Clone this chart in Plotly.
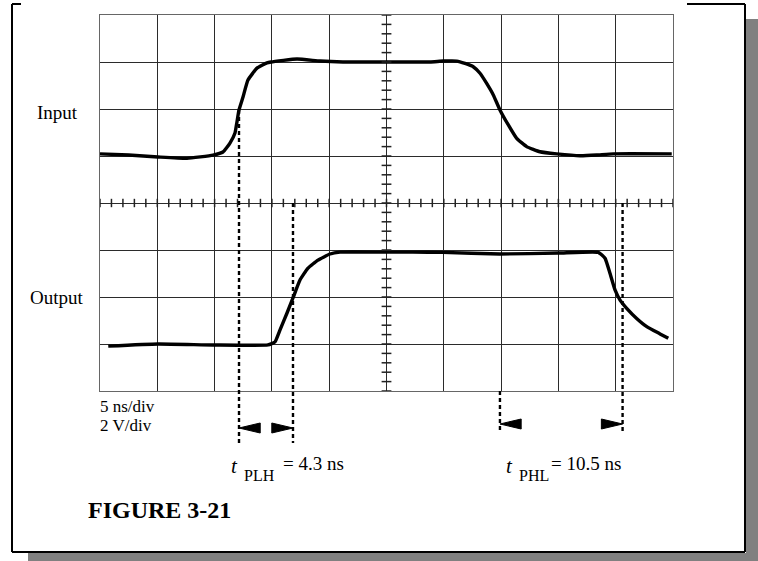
import numpy as np
import plotly.graph_objects as go

# ---------------- data ----------------
NS_PER_DIV = 5          # 5 ns/div
V_PER_DIV = 2           # 2 V/div
N_XDIV = 10
N_YDIV = 8

channel_names = ["Input", "Output"]
channel_offset_div = [1, -3]          # ground level of each trace on the graticule

input_t_ns = [0.00, 2.50, 5.06, 7.59, 9.86, 10.73, 11.34, 11.78, 11.95, 12.13,
              12.48, 12.91, 13.70, 14.57, 14.92, 17.19, 19.20, 21.20, 24.70, 28.80,
              29.96, 31.13, 31.85, 32.57, 33.16, 33.74, 34.32, 34.90, 35.63, 36.36,
              37.23, 38.39, 39.85, 41.88, 43.34, 44.79, 49.89]
input_v = [0.09, 0.04, -0.04, -0.10, 0.04, 0.17, 0.55, 0.98, 1.45, 1.96,
           2.51, 3.23, 3.74, 3.96, 4.00, 4.13, 4.04, 4.00, 4.00, 4.00,
           4.04, 4.04, 3.94, 3.80, 3.52, 3.09, 2.60, 1.96, 1.32, 0.75,
           0.40, 0.18, 0.09, 0.01, 0.04, 0.09, 0.09]

output_t_ns = [0.72, 5.06, 9.86, 14.66, 15.27, 15.71, 16.32, 16.84, 17.45, 18.15,
               19.02, 20.07, 20.94, 24.70, 27.30, 29.90, 34.90, 40.00, 43.48, 44.07,
               44.50, 44.94, 45.38, 45.96, 46.83, 47.71, 48.87, 49.59]
output_v = [-0.09, 0.00, -0.04, -0.04, 0.09, 0.60, 1.32, 1.96, 2.72, 3.23,
            3.57, 3.83, 3.91, 3.91, 3.91, 3.90, 3.83, 3.87, 3.90, 3.65,
            3.01, 2.30, 1.87, 1.52, 1.09, 0.74, 0.43, 0.24]

# propagation delay markers (times of the dashed lines, ns)
plh_marks_ns = [12.13, 16.84]
phl_marks_ns = [34.90, 45.60]
delay_symbol = "t"
delay_subs = ["PLH", "PHL"]
delay_values = ["= 4.3 ns", "= 10.5 ns"]
scale_labels = ["5 ns/div", "2 V/div"]
figure_title = "FIGURE 3-21"

# ---------------- helpers ----------------
W, H = 758, 561
L, R, T, B = 100, 85, 15, 170
PW, PH = W - L - R, H - T - B
X_MAX = N_XDIV * NS_PER_DIV
Y_HALF = N_YDIV / 2


def to_div(v, ch):
    return np.asarray(v) / V_PER_DIV + channel_offset_div[ch]


def ydiv_paper(d):                    # graticule division -> paper y
    return (d + Y_HALF) / N_YDIV


def px_x(px):                          # page pixel -> paper x (decoration)
    return (px - L) / PW


def px_y(py):                          # page pixel -> paper y (decoration)
    return (H - B - py) / PH


SERIF = "Liberation Serif, Times New Roman, serif"
fig = go.Figure()

# traces
for t, v, ch in [(input_t_ns, input_v, 0), (output_t_ns, output_v, 1)]:
    fig.add_trace(go.Scatter(x=t, y=to_div(v, ch), mode="lines", name=channel_names[ch],
                             line=dict(color="black", width=3.4, shape="spline", smoothing=0.4),
                             hoverinfo="skip"))

# graticule minor ticks on centre lines
minor_x = np.arange(0, X_MAX + 0.01, NS_PER_DIV / 5)
fig.add_trace(go.Scatter(x=minor_x, y=np.zeros_like(minor_x), mode="markers",
                         marker=dict(symbol="line-ns", size=6, line=dict(color="#222", width=1.5)),
                         hoverinfo="skip"))
minor_y = np.arange(-Y_HALF, Y_HALF + 0.01, 0.2)
fig.add_trace(go.Scatter(x=np.full_like(minor_y, X_MAX / 2), y=minor_y, mode="markers",
                         marker=dict(symbol="line-ew", size=7, line=dict(color="#222", width=1.5)),
                         hoverinfo="skip"))

shapes = []
dash = dict(color="black", width=2.4, dash="4px,3px")

# dashed measurement lines
in_level = float(np.interp(plh_marks_ns[0], input_t_ns, input_v))
shapes.append(dict(type="line", xref="x", yref="paper",
                   x0=plh_marks_ns[0], x1=plh_marks_ns[0],
                   y0=ydiv_paper(to_div(in_level, 0)), y1=px_y(445), line=dash))
shapes.append(dict(type="line", xref="x", yref="paper",
                   x0=plh_marks_ns[1], x1=plh_marks_ns[1],
                   y0=ydiv_paper(0), y1=px_y(443), line=dash))
shapes.append(dict(type="line", xref="x", yref="paper",
                   x0=phl_marks_ns[0], x1=phl_marks_ns[0],
                   y0=ydiv_paper(-Y_HALF), y1=px_y(433), line=dash))
shapes.append(dict(type="line", xref="x", yref="paper",
                   x0=phl_marks_ns[1], x1=phl_marks_ns[1],
                   y0=ydiv_paper(0), y1=px_y(432), line=dash))


def tri(tip, base, yc_px, h_px=5):
    yc = px_y(yc_px)
    h = h_px / PH
    return dict(type="path", xref="x", yref="paper",
                path=f"M {tip},{yc} L {base},{yc + h} L {base},{yc - h} Z",
                fillcolor="black", line=dict(color="black", width=1))


arrow_len_ns = 1.85
shapes.append(tri(plh_marks_ns[0], plh_marks_ns[0] + arrow_len_ns, 428))
shapes.append(tri(plh_marks_ns[1], plh_marks_ns[1] - arrow_len_ns, 428))
shapes.append(tri(phl_marks_ns[0], phl_marks_ns[0] + arrow_len_ns, 424))
shapes.append(tri(phl_marks_ns[1], phl_marks_ns[1] - arrow_len_ns, 424))

# page frame with drop shadow
gray = "#808080"
shapes.append(dict(type="rect", xref="paper", yref="paper", layer="below",
                   x0=px_x(746), x1=px_x(760), y0=px_y(19), y1=px_y(562),
                   fillcolor=gray, line=dict(width=0)))
shapes.append(dict(type="rect", xref="paper", yref="paper", layer="below",
                   x0=px_x(28), x1=px_x(760), y0=px_y(553), y1=px_y(562),
                   fillcolor=gray, line=dict(width=0)))
frame = dict(color="black", width=2)
for (xa, ya, xb, yb) in [(12, 4, 12, 552), (12, 552, 745, 552), (745, 552, 745, 4),
                         (745, 4, 687, 4), (12, 4, 21, 4)]:
    shapes.append(dict(type="line", xref="paper", yref="paper",
                       x0=px_x(xa), y0=px_y(ya), x1=px_x(xb), y1=px_y(yb), line=frame))

annotations = []
lab_font = dict(family=SERIF, size=19, color="black")
for name, ch_y_px in zip(channel_names, [112, 297]):
    annotations.append(dict(text=name, xref="paper", yref="paper", x=px_x(57), y=px_y(ch_y_px),
                            xanchor="center", yanchor="middle", showarrow=False, font=lab_font))
for s, y_px in zip(scale_labels, [406, 425]):
    annotations.append(dict(text=s, xref="paper", yref="paper", x=px_x(98), y=px_y(y_px),
                            xanchor="left", yanchor="middle", showarrow=False,
                            font=dict(family=SERIF, size=17, color="black")))
for sub, val, x_px in zip(delay_subs, delay_values, [229, 504]):
    annotations.append(dict(text=f"<i>{delay_symbol}</i>", xref="paper", yref="paper",
                            x=px_x(x_px), y=px_y(466), xanchor="left", yanchor="middle",
                            showarrow=False, font=dict(family=SERIF, size=21, color="black")))
    annotations.append(dict(text=sub, xref="paper", yref="paper",
                            x=px_x(x_px + 13), y=px_y(475), xanchor="left", yanchor="middle",
                            showarrow=False, font=dict(family=SERIF, size=16, color="black")))
    annotations.append(dict(text=val, xref="paper", yref="paper",
                            x=px_x(x_px + (52 if sub == "PLH" else 45)), y=px_y(463),
                            xanchor="left", yanchor="middle",
                            showarrow=False, font=dict(family=SERIF, size=19, color="black")))
annotations.append(dict(text=f"<b>{figure_title}</b>", xref="paper", yref="paper",
                        x=px_x(86), y=px_y(510), xanchor="left", yanchor="middle",
                        showarrow=False, font=dict(family=SERIF, size=24, color="black")))

axis_common = dict(showgrid=True, gridcolor="#2b2b2b", gridwidth=1.2, zeroline=False,
                   showline=True, mirror=True, linecolor="#666", linewidth=1,
                   showticklabels=False, ticks="", fixedrange=True)

fig.update_layout(
    width=W, height=H, margin=dict(l=L, r=R, t=T, b=B, pad=0),
    paper_bgcolor="white", plot_bgcolor="white", showlegend=False,
    xaxis=dict(range=[0, X_MAX], dtick=NS_PER_DIV, tick0=0, **axis_common),
    yaxis=dict(range=[-Y_HALF, Y_HALF], dtick=1, tick0=0, **axis_common),
    shapes=shapes, annotations=annotations,
)

fig.write_html("out.html", config={"displayModeBar": False},
               post_script="document.body.style.margin='0';document.body.style.overflow='hidden';")
